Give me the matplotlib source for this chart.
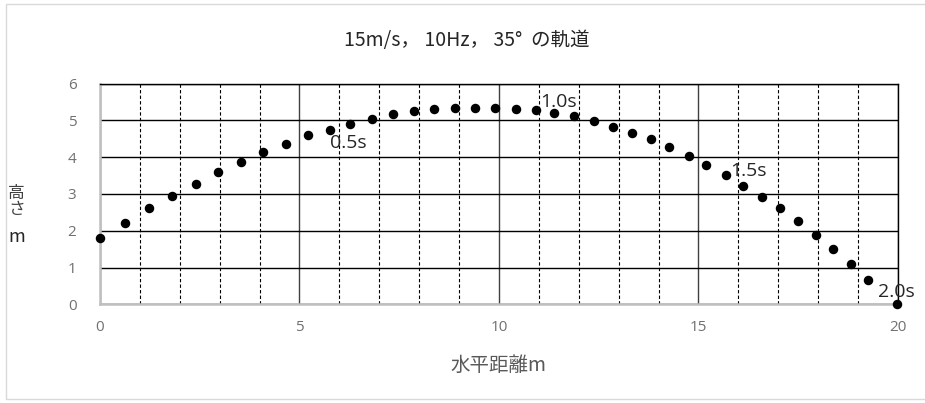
import matplotlib
matplotlib.use("Agg")
import matplotlib.pyplot as plt
from matplotlib.patches import Rectangle
from matplotlib.ticker import MultipleLocator

plt.rcParams['font.family'] = ['Noto Sans CJK JP', 'DejaVu Sans']

# trajectory samples (horizontal distance m, height m)
dist_m = [0.00, 0.63, 1.23, 1.81, 2.40, 2.97, 3.54, 4.09, 4.67, 5.21,
          5.76, 6.26, 6.82, 7.35, 7.87, 8.37, 8.89, 9.39, 9.91, 10.42,
          10.92, 11.39, 11.89, 12.38, 12.86, 13.33, 13.81, 14.27, 14.75, 15.20,
          15.68, 16.12, 16.60, 17.05, 17.50, 17.95, 18.38, 18.82, 19.25, 19.98]
height_m = [1.79, 2.21, 2.61, 2.94, 3.26, 3.59, 3.87, 4.13, 4.37, 4.59,
            4.75, 4.91, 5.05, 5.17, 5.25, 5.30, 5.34, 5.34, 5.34, 5.31,
            5.27, 5.19, 5.11, 4.98, 4.83, 4.67, 4.48, 4.28, 4.03, 3.79,
            3.52, 3.22, 2.91, 2.61, 2.26, 1.88, 1.50, 1.09, 0.66, 0.00]

# time labels: (sample index, text)
time_labels = [(10, "0.5s"), (20, "1.0s"), (30, "1.5s"), (39, "2.0s")]
label_offsets = {"0.5s": (0, -10), "1.0s": (3, 6), "1.5s": (3, 3), "2.0s": (-14, 9)}

title = "15m/s， 10Hz， 35°  の軌道"
xlabel = "水平距離m"

fig = plt.figure(figsize=(9.25, 4.03), dpi=100)
ax = fig.add_axes([0.1081, 0.2449, 0.8627, 0.5477])

ax.scatter(dist_m, height_m, s=34, color="black", zorder=5, clip_on=False)

for idx, txt in time_labels:
    ax.annotate(txt, (dist_m[idx], height_m[idx]), xytext=label_offsets[txt],
                textcoords="offset points", ha="left", va="center",
                fontsize=14, color="#262626", zorder=6,
                family=["Open Sans", "DejaVu Sans"])

ax.set_xlim(0, 20)
ax.set_ylim(0, 6)
ax.xaxis.set_major_locator(MultipleLocator(5))
ax.xaxis.set_minor_locator(MultipleLocator(1))
ax.yaxis.set_major_locator(MultipleLocator(1))

ax.grid(which="minor", axis="x", color="black", linestyle=(0, (3, 2)), linewidth=0.8)
ax.grid(which="major", axis="x", color="#404040", linestyle="-", linewidth=1.0)
ax.grid(which="major", axis="y", color="black", linestyle="-", linewidth=1.0)
ax.set_axisbelow(True)

ax.tick_params(which="both", length=0, labelsize=11, labelcolor="#707070")
ax.tick_params(axis="x", pad=11)
ax.tick_params(axis="y", pad=17)
for lab in ax.get_xticklabels() + ax.get_yticklabels():
    lab.set_family(["Open Sans", "DejaVu Sans"])

ax.spines["left"].set_color("#bfbfbf")
ax.spines["left"].set_linewidth(1.8)
ax.spines["bottom"].set_color("#bfbfbf")
ax.spines["bottom"].set_linewidth(1.8)
ax.spines["top"].set_color("black")
ax.spines["top"].set_linewidth(1.0)
ax.spines["right"].set_color("black")
ax.spines["right"].set_linewidth(1.0)

fig.text(0.505, 0.899, title, ha="center", va="center", fontsize=14, color="#262626")
fig.text(0.539, 0.094, xlabel, ha="center", va="center", fontsize=14, color="#595959")
fig.text(0.018, 0.5, "高\nさ", ha="center", va="center", fontsize=12,
         color="#404040", linespacing=0.95)
fig.text(0.018, 0.412, "m", ha="center", va="center", fontsize=13, color="#262626")

# outer chart frame
fig.patches.append(Rectangle((6 / 925, 4 / 403), 1.0, 395 / 403, transform=fig.transFigure,
                             fill=False, edgecolor="#d9d9d9", linewidth=1.0))

fig.savefig("out.png", dpi=100, facecolor="white")
